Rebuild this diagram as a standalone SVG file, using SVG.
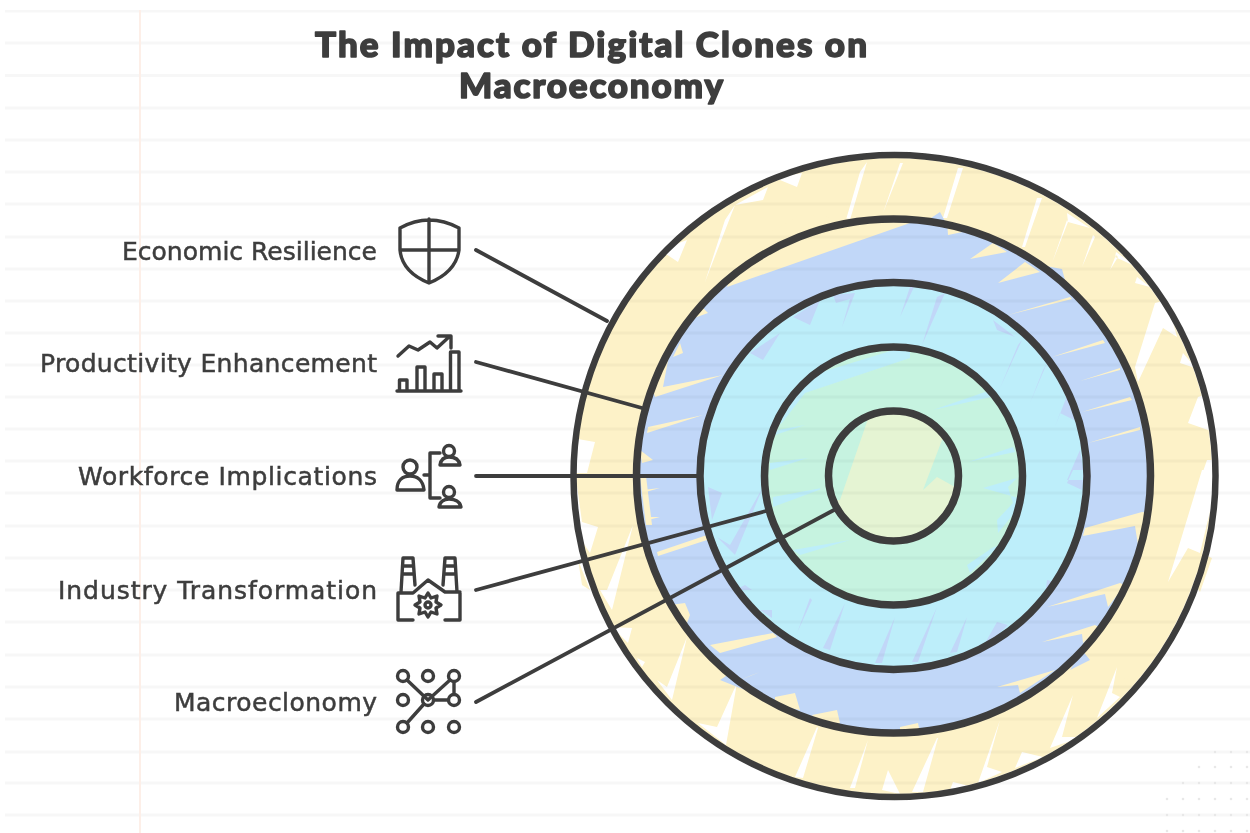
<svg xmlns="http://www.w3.org/2000/svg" width="1250" height="833" viewBox="0 0 1250 833">
<style>
.y{fill:#fdf2c8}.w{fill:#fff}.b{fill:#c1d7f8}.c{fill:#bdeefa}.m{fill:#c6f3e0}.g{fill:#e5f4d3}
.ring{fill:none;stroke:#3d3d3d;stroke-width:7.500}
.conn{fill:none;stroke:#3d3d3d;stroke-width:3.800;stroke-linecap:round}
.ic{fill:none;stroke:#3d3d3d;stroke-width:3.400;stroke-linejoin:round;stroke-linecap:round}
.lb{font-family:"DejaVu Sans",sans-serif;font-size:25px;fill:#3d3d3d;stroke:#3d3d3d;stroke-width:.5;text-anchor:end}
.tt{font-family:Lato,"Liberation Sans",sans-serif;font-weight:900;font-size:35px;fill:#3d3d3d;stroke:#3d3d3d;stroke-width:1.600;stroke-linejoin:round;text-anchor:middle}
</style>
<defs><filter id="soft" x="0" y="0" width="100%" height="100%"><feGaussianBlur stdDeviation="0.6"/></filter></defs>
<rect width="1250" height="833" fill="#fff"/>
<g filter="url(#soft)">
<g id="fills">
<circle class="y" cx="894" cy="476" r="318"/>
<path class="y" d="M1200 553L1212 558L1200 592L1195 585ZM1112 693L1130 672L1120 700ZM578 560L590 590L582 585Z"/>
<path class="w" d="M660 250L687 240L678 262ZM735 205L725 220L705 282ZM735 205L763 200L768 187ZM775 178L797 187L802 173ZM867 162L860 172L838 247L842 247ZM903 163L900 163L883 213ZM572 438L595 442L587 473L572 473ZM963 168L958 168L943 218L947 218ZM1042 198L1037 198L1022 247L1025 247ZM1067 220L1052 263L1068 222ZM1067 213L1090 228L1068 222ZM1093 235L1082 267L1095 237ZM1116 255L1110 270L1118 257ZM1116 252L1137 267L1115 257ZM1137 277L1150 287L1135 283ZM1155 303L1135 367L1138 382L1163 328L1177 337L1167 300ZM1180 363L1183 353L1200 373L1195 368ZM1198 397L1188 423L1208 430L1216 430L1210 393ZM1207 460L1200 480L1216 480L1216 460ZM1202 470L1168 582L1188 548L1200 553L1212 503L1216 470ZM1117 667L1097 718L1120 697L1112 693ZM1073 695L1050 748L1082 737L1062 737ZM1022 752L1015 768L1043 757ZM1000 720L978 783L1002 772L987 767ZM937 738L912 792L923 792L938 738ZM953 782L950 790L977 788ZM576 478L582 522L598 527L590 553L578 535ZM633 525L607 590L600 590L612 610ZM612 627L632 628L628 643ZM637 658L645 662L642 667ZM687 637L667 687L657 680L672 700ZM737 683L717 727L698 723L726 745ZM817 727L795 777L803 778L818 728ZM868 740L850 788L855 788ZM888 770L882 790L900 794Z"/>
<circle class="b" cx="893.500" cy="476" r="254"/>
<path class="b" d="M925 222L940 212L947 225ZM1040 265L1062 269L1065 280ZM1082 650L1090 660L1070 670ZM720 680L745 690L735 670Z"/>
<path class="y" d="M727 287L910 223L800 215L740 250ZM708 313L683 322L690 295ZM683 353L673 357L680 343ZM663 387L723 375L655 397L650 380L672 340ZM703 415L647 433L648 427ZM653 460L642 463L640 450ZM947 220L948 235L987 227L993 243L1005 235ZM993 243L970 259L1007 252ZM1025 262L998 283L1040 272ZM1070 297L1008 315L1072 299ZM1103 340L1052 357L1105 343ZM1120 368L1080 381L1120 370ZM1130 397L1082 412L1132 400ZM1140 427L1088 443L1140 430ZM1142 512L1085 528L1083 536L1135 526L1138 545L1148 513ZM1120 583L1047 607L1105 594L1108 607L1125 585ZM1095 625L1042 642L1082 634L1083 643L1100 628ZM1055 670L997 687L1018 685L1020 693ZM918 723L900 727L900 733L920 733ZM660 488L642 493L643 490ZM660 517L648 520L649 517ZM640 476L646 476L652 525L646 525ZM707 535L657 552L658 556L707 540ZM685 603L670 605L687 623L690 615ZM773 633L710 645L720 653L777 637ZM752 675L733 683L760 672ZM775 697L795 693L800 710L775 705ZM812 715L837 710L840 723L820 723Z"/>
<circle class="c" cx="893.500" cy="476" r="190"/>
<path class="b" d="M833 295L855 293L842 327L850 299L836 303ZM820 300L810 325L793 317ZM780 333L763 360L750 353ZM910 287L900 317L914 287ZM945 293L922 345L937 297ZM993 320L1015 337L997 330ZM1022 340L1000 388L1018 345ZM1047 363L1030 403L1043 370ZM1068 393L1055 427L1060 413L1080 423ZM1080 450L1067 480L1085 480ZM1067 483L1073 470L1085 470L1082 490ZM1047 580L1060 583L1045 595ZM937 607L912 662L918 662ZM967 617L950 653L957 652ZM997 622L980 652L1008 625ZM708 487L722 493L712 520ZM763 487L730 545L717 537L735 555ZM810 598L797 633L812 600ZM845 603L823 648L830 650ZM895 617L875 663L882 663ZM745 585L752 590L735 590ZM772 610L760 610L772 618Z"/>
<circle class="m" cx="893.500" cy="476" r="126"/>
<path class="c" d="M910 345L780 385L762 432L782 423L805 393L910 358ZM805 425L772 436L778 430ZM808 458L770 470L770 463ZM933 410L985 392L1000 395ZM968 462L1013 447L1015 452ZM983 488L1017 478L1008 487L1013 503L997 520L998 533L1025 500ZM945 565L992 548L967 565L970 573L1000 545ZM773 497L827 487L773 507ZM793 550L850 540L800 555Z"/>
<circle class="g" cx="893.500" cy="476" r="63"/>
<path class="m" d="M870 413L840 500L820 500L820 410ZM942 440L923 490L937 477L955 487L962 440Z"/>
</g>
<path id="ruled" fill="none" stroke="#000" stroke-opacity=".03" stroke-width="3" d="M5 11H1250M5 43H1250M5 75.500H1250M5 108H1250M5 140H1250M5 172H1250M5 204H1250M5 237H1250M5 269H1250M5 301H1250M5 333H1250M5 365H1250M5 397H1250M5 429H1250M5 461H1250M5 493H1250M5 526H1250M5 558H1250M5 590H1250M5 622H1250M5 655H1250M5 687H1250M5 719H1250M5 752H1250M5 783H1250M5 815H1250"/>
<path id="margin" fill="none" stroke="#fdefe8" stroke-width="2" d="M140 10V833"/>
<g id="dots" fill="#e8e8e8">
<circle cx="1215" cy="752" r="1.300"/><circle cx="1231" cy="752" r="1.300"/><circle cx="1247" cy="752" r="1.300"/>
<circle cx="1199" cy="767" r="1.300"/><circle cx="1215" cy="767" r="1.300"/><circle cx="1231" cy="767" r="1.300"/><circle cx="1247" cy="767" r="1.300"/>
<circle cx="1183" cy="783" r="1.300"/><circle cx="1199" cy="783" r="1.300"/><circle cx="1215" cy="783" r="1.300"/><circle cx="1231" cy="783" r="1.300"/><circle cx="1247" cy="783" r="1.300"/>
<circle cx="1167" cy="799" r="1.300"/><circle cx="1183" cy="799" r="1.300"/><circle cx="1199" cy="799" r="1.300"/><circle cx="1215" cy="799" r="1.300"/><circle cx="1231" cy="799" r="1.300"/><circle cx="1247" cy="799" r="1.300"/>
<circle cx="1167" cy="815" r="1.300"/><circle cx="1183" cy="815" r="1.300"/><circle cx="1199" cy="815" r="1.300"/><circle cx="1215" cy="815" r="1.300"/><circle cx="1231" cy="815" r="1.300"/><circle cx="1247" cy="815" r="1.300"/>
<circle cx="1167" cy="831" r="1.300"/><circle cx="1183" cy="831" r="1.300"/><circle cx="1199" cy="831" r="1.300"/><circle cx="1215" cy="831" r="1.300"/><circle cx="1231" cy="831" r="1.300"/><circle cx="1247" cy="831" r="1.300"/>
</g>
<g id="rings">
<circle class="ring" cx="894.500" cy="476" r="321" style="stroke-width:6.500"/>
<circle class="ring" cx="893.500" cy="476" r="257"/>
<circle class="ring" cx="893.500" cy="476" r="193.500"/>
<circle class="ring" cx="893.500" cy="476" r="129"/>
<circle class="ring" cx="893.500" cy="476" r="65"/>
</g>
<g id="connectors">
<path class="conn" d="M476 250L607 321"/>
<path class="conn" d="M476 362L642 408"/>
<path class="conn" d="M476 476L700 476"/>
<path class="conn" d="M476 590L766 511"/>
<path class="conn" d="M476 702L834 510"/>
</g>
<text id="title" class="tt"><tspan x="591" y="57" textLength="552">The Impact of Digital Clones on</tspan><tspan x="591" y="98" textLength="264">Macroeconomy</tspan></text>
<g id="economic-resilience">
<text class="lb" x="377" y="260" textLength="255">Economic Resilience</text>
<path class="ic" d="M400 228Q429 212 459 228L459 250Q456 272 429 283Q402 272 400 250ZM429 219V283M400 250H459"/>
</g>
<g id="productivity-enhancement">
<text class="lb" x="377" y="372" textLength="337">Productivity Enhancement</text>
<path class="ic" d="M397 391H461M399.500 391V380H407V391M417 391V367H425V391M434 391V374H442V391M450.500 391V352H459V391M398 356L409 346L418 350L430 342L437 348L450 336M438 336H451V348"/>
</g>
<g id="workforce-implications">
<text class="lb" x="377" y="485" textLength="299">Workforce Implications</text>
<path class="ic" d="M397 490C397 480 403 476 410 476C417 476 423 480 424 490ZM424 475H430M440 453H430V498H440M440 465C441 459 445 457 449 457C454 457 459 459 460 465ZM439 507C440 501 445 499 449 499C454 499 460 501 461 507Z"/>
<circle class="ic" cx="410" cy="467" r="7"/><circle class="ic" cx="449" cy="451" r="5.500"/><circle class="ic" cx="449" cy="492" r="5.500"/>
</g>
<g id="industry-transformation">
<text class="lb" x="377" y="599" textLength="319">Industry Transformation</text>
<path class="ic" d="M401 592L403 558H413L415 585M403 566H413M402 574H414M443 585L445 558H455L457 592M445 566H455M444 574H456M398 593H413L428 580L445 592H460M398 593V620H413M460 593V620H445M428 593L431 598L437 596L436 602L441 605L436 608L437 614L431 612L428 617L425 612L419 614L420 608L415 605L420 602L419 596L425 598Z"/>
<circle class="ic" cx="428" cy="605" r="3"/>
</g>
<g id="macroeclonomy">
<text class="lb" x="377" y="711" textLength="203">Macroeclonomy</text>
<path class="ic" d="M407 680L428 700L450 680M454 682V694M434 700H448M424 704L407 723"/>
<circle class="ic" cx="403" cy="676" r="5.500"/><circle class="ic" cx="428" cy="676" r="5.500"/><circle class="ic" cx="454" cy="676" r="5.500"/>
<circle class="ic" cx="403" cy="700" r="5.500"/><circle class="ic" cx="428" cy="700" r="5.500"/><circle class="ic" cx="454" cy="700" r="5.500"/>
<circle class="ic" cx="403" cy="727" r="5.500"/><circle class="ic" cx="428" cy="727" r="5.500"/><circle class="ic" cx="454" cy="727" r="5.500"/>
</g>
</g>
</svg>
